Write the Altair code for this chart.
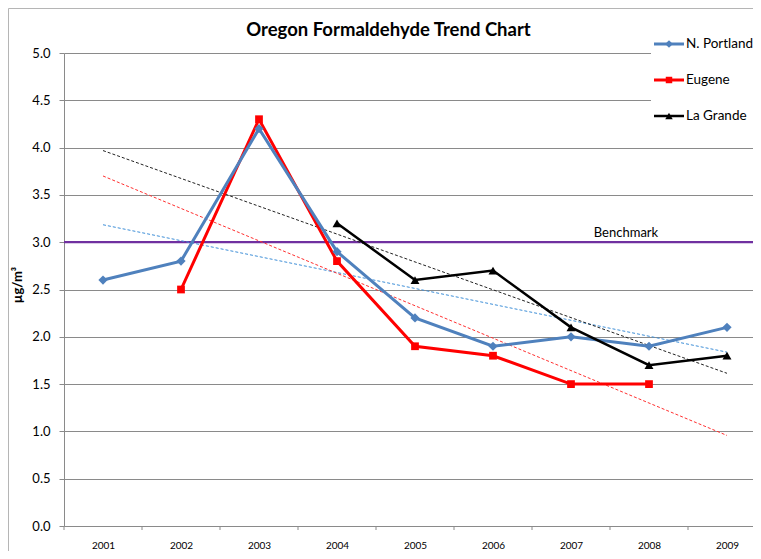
import altair as alt
import pandas as pd

# ---------------- data ----------------
years = [2001, 2002, 2003, 2004, 2005, 2006, 2007, 2008, 2009]
portland = [2.6, 2.8, 4.2, 2.9, 2.2, 1.9, 2.0, 1.9, 2.1]
eugene = [None, 2.5, 4.3, 2.8, 1.9, 1.8, 1.5, 1.5, None]
lagrande = [None, None, None, 3.2, 2.6, 2.7, 2.1, 1.7, 1.8]

series_names = ["N. Portland", "Eugene", "La Grande"]
series_values = [portland, eugene, lagrande]
line_colors = ["#4F81BD", "#FF0000", "#000000"]
trend_colors = ["#3E8FD8", "#FF3030", "#222222"]
marker_shapes = ["diamond", "square", "triangle-up"]
marker_sizes = [85, 60, 80]
line_widths = [3, 3, 2.5]

benchmark_value = 3.0
benchmark_label = "Benchmark"
y_ticks = [0.0, 0.5, 1.0, 1.5, 2.0, 2.5, 3.0, 3.5, 4.0, 4.5, 5.0]
title_text = "Oregon Formaldehyde Trend Chart"
y_title = "µg/m³"

rows = []
for name, vals in zip(series_names, series_values):
    for yr, v in zip(years, vals):
        if v is not None:
            rows.append({"series": name, "year": yr, "value": v})
df = pd.DataFrame(rows)

bounds = pd.DataFrame({"b": [years[0] - 0.5 + i for i in range(len(years) + 1)]})
bench_df = pd.DataFrame({"value": [benchmark_value], "label": [benchmark_label]})
one = pd.DataFrame({"k": [0]})

# ---------------- layout ----------------
W, H = 702, 473
FONT = "Lato"
GRID = "#8a8a8a"

xs = alt.Scale(domain=[years[0] - 0.5, years[-1] + 0.5], nice=False, zero=False)
ys = alt.Scale(domain=[0, 5], nice=False)

x_axis = alt.Axis(
    values=years, format="d", ticks=False, grid=False, title=None,
    labelFontSize=10, labelPadding=14, labelColor="#000000", labelFont=FONT,
    domainColor=GRID, domainWidth=1)
y_axis = alt.Axis(
    values=y_ticks, format=".1f", tickSize=5, tickColor=GRID, grid=True,
    gridColor=GRID, gridWidth=1, title=None, labelFontSize=13,
    labelPadding=9, labelColor="#000000", labelFont=FONT,
    domainColor=GRID, domainWidth=1)


def X(field="year:Q"):
    return alt.X(field, scale=xs, axis=x_axis)


def Y(field="value:Q"):
    return alt.Y(field, scale=ys, axis=y_axis)


layers = []

# series lines + markers
draw_order = [1, 0, 2]
series_layers = []
for i in draw_order:
    name = series_names[i]
    base = alt.Chart(df).transform_filter(alt.datum.series == name)
    series_layers.append(
        base.mark_line(color=line_colors[i], strokeWidth=line_widths[i]).encode(x=X(), y=Y())
    )
    series_layers.append(
        base.mark_point(filled=True, opacity=1, color=line_colors[i],
                        shape=marker_shapes[i], size=marker_sizes[i])
        .encode(x=X(), y=Y())
    )

# chart border
layers.append(
    alt.Chart(one).mark_rect(filled=False, color="#b5b5b5", strokeWidth=1)
    .encode(x=alt.value(-55.5), x2=alt.value(W + 100), y=alt.value(-44.5), y2=alt.value(H + 200))
)

# legend background (covers grid)
layers.append(
    alt.Chart(one).mark_rect(color="white")
    .encode(x=alt.value(587), x2=alt.value(W + 20), y=alt.value(-25), y2=alt.value(82))
)

# x ticks at category boundaries
layers.append(
    alt.Chart(bounds).mark_rule(color=GRID, strokeWidth=1)
    .encode(x=X("b:Q"), y=alt.value(H), y2=alt.value(H + 4))
)

# benchmark line
layers.append(
    alt.Chart(bench_df).mark_rule(color="#7030A0", strokeWidth=2.2)
    .encode(y=Y(), x=alt.value(0), x2=alt.value(W))
)

# trend lines
for name, tc in zip(series_names, trend_colors):
    layers.append(
        alt.Chart(df).transform_filter(alt.datum.series == name)
        .transform_regression("year", "value", extent=[years[0], years[-1]])
        .mark_line(color=tc, strokeWidth=1, strokeDash=[3, 2])
        .encode(x=X(), y=Y())
    )

layers.extend(series_layers)

# benchmark label
layers.append(
    alt.Chart(bench_df).mark_text(font=FONT, fontSize=13, color="#000000",
                                  align="center", baseline="alphabetic", dy=-5)
    .encode(y=Y(), x=alt.value(562), text="label:N")
)

# legend entries
legend_y = [-9, 27, 63]
for i, name in enumerate(series_names):
    ldf = pd.DataFrame({"series": [name]})
    layers.append(
        alt.Chart(ldf).mark_rule(color=line_colors[i], strokeWidth=line_widths[i])
        .encode(x=alt.value(590), x2=alt.value(620), y=alt.value(legend_y[i]))
    )
    layers.append(
        alt.Chart(ldf).mark_point(filled=True, opacity=1, color=line_colors[i],
                                  shape=marker_shapes[i], size=marker_sizes[i] * 0.7)
        .encode(x=alt.value(605), y=alt.value(legend_y[i]))
    )
    layers.append(
        alt.Chart(ldf).mark_text(font=FONT, fontSize=13.5, color="#000000",
                                 align="left", baseline="middle")
        .encode(x=alt.value(622), y=alt.value(legend_y[i]), text="series:N")
    )

# title
layers.append(
    alt.Chart(pd.DataFrame({"t": [title_text]})).mark_text(
        font=FONT, fontSize=18.5, fontWeight="bold", color="#000000",
        align="center", baseline="alphabetic")
    .encode(x=alt.value(324.5), y=alt.value(-17), text="t:N")
)

# y title
layers.append(
    alt.Chart(pd.DataFrame({"t": [y_title]})).mark_text(
        font=FONT, fontSize=13, fontWeight="bold", color="#000000",
        align="center", baseline="middle", angle=270)
    .encode(x=alt.value(-46), y=alt.value(232), text="t:N")
)

chart = alt.layer(*layers).properties(
    width=W, height=H,
    autosize=alt.AutoSizeParams(type="none"),
    padding={"left": 56, "top": 45, "right": -13, "bottom": 25},
).configure_view(stroke=None)

chart.save("out.html", embed_options={"renderer": "svg", "actions": False})
